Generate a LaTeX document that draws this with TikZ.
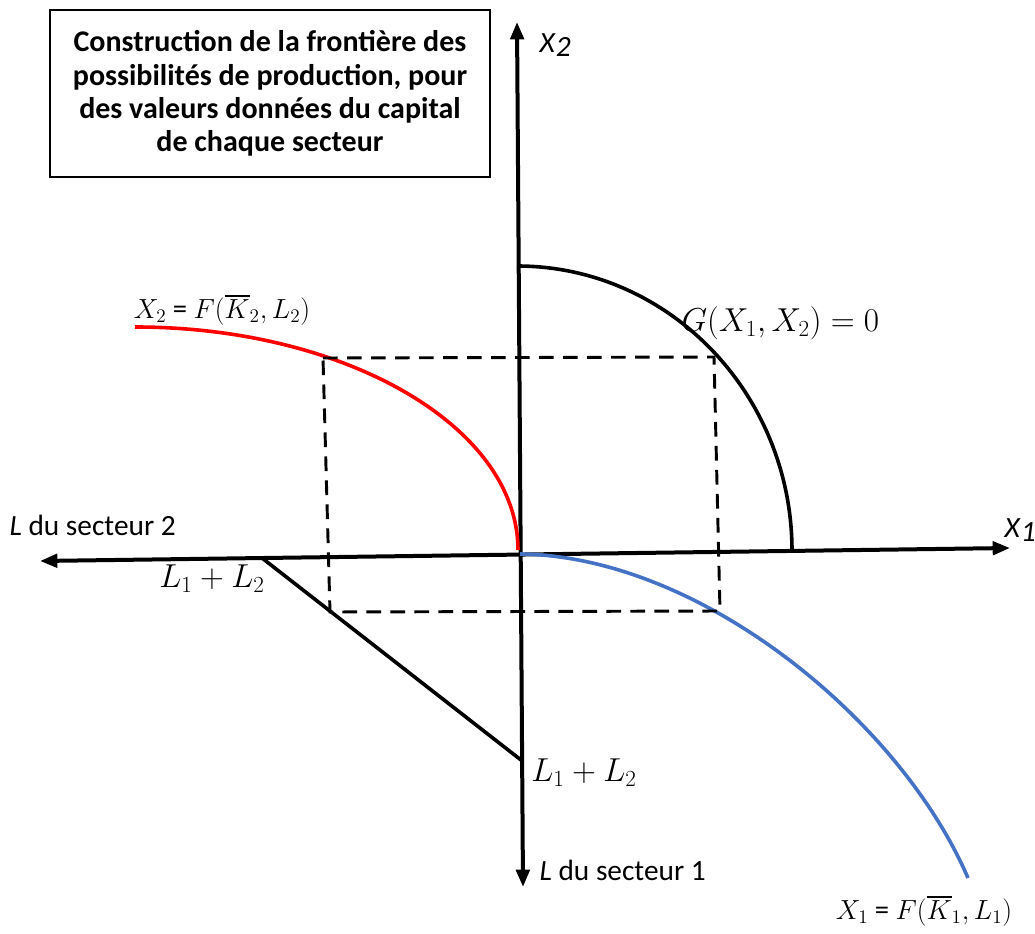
\documentclass[tikz,border=0pt]{standalone}
\usepackage{fontspec}
\setmainfont{Carlito}
\usepackage{amsmath}
\usepackage{xcolor}
\usetikzlibrary{positioning,arrows.meta,calc}
\definecolor{frRed}{RGB}{255,0,0}
\definecolor{frBlue}{RGB}{68,114,196}
\tikzset{
  axis/.style={line width=3pt,{Triangle[length=13pt,width=10pt]}-{Triangle[length=13pt,width=10pt]}},
  front/.style={line width=2.7pt},
  guide/.style={line width=2.2pt,dash pattern=on 11pt off 7pt},
  budget/.style={line width=2.7pt},
  titlebox/.style={draw=black,line width=1.4pt,align=center,inner sep=0pt,
              minimum width=330pt,minimum height=125pt,
              font=\fontsize{22.5}{25}\selectfont\bfseries},
  lbl/.style={inner sep=1pt,font=\fontsize{22}{26}\selectfont},
  mlbl/.style={inner sep=1pt,font=\fontsize{24}{28}\selectfont},
  flbl/.style={inner sep=1pt,font=\fontsize{21.5}{26}\selectfont},
}

\begin{document}
\begin{tikzpicture}[x=0.75pt,y=-0.75pt]
  \useasboundingbox (0,0) rectangle (1035,934);

  % ===== title =====
  \node[titlebox] (title) at (270,93.5)
       {Construction de la frontière des\\possibilités de production, pour\\des valeurs données du capital\\de chaque secteur};

  % ===== axes =====
  \coordinate (yTop) at (517,22);
  \coordinate (yBot) at (523,887);
  \coordinate (xLft) at (40,561);
  \coordinate (xRgt) at (1010,548);
  \coordinate (O)    at (520,554);
  \draw[axis] (yBot) -- (yTop);
  \draw[axis] (xLft) -- (xRgt);
  \node[lbl,anchor=west] (x2lab) at (538,45) {\textit{X}\raisebox{-0.25ex}{\textit{2}}};
  \node[lbl,anchor=west] (x1lab) at (1003,530) {\textit{X}\raisebox{-0.25ex}{\textit{1}}};
  \node[lbl,anchor=west] (l2lab) at (8,525) {\textit{L} du secteur 2};
  \node[lbl,anchor=west] (l1lab) at (538,870) {\textit{L} du secteur 1};

  % ===== frontier and production functions =====
  \coordinate (gTop) at (517,266);
  \coordinate (gRgt) at (792,551);
  \draw[front] (gTop) .. controls (669,266) and (792,394) .. (gRgt);
  \node[mlbl,anchor=west] (glab) at (680,323) {$G(X_1,X_2)=0$};

  \coordinate (rStart) at (135,327);
  \draw[front,frRed] (rStart) .. controls (346,327) and (518,427) .. (518,550);
  \node[flbl] (f2lab) at (222,310) {$X_2$ = $F(\overline{K}_2,L_2)$};

  \coordinate (bEnd) at (968,878);
  \draw[front,frBlue] (O) .. controls (700,556) and (900,720) .. (bEnd);
  \node[flbl] (f1lab) at (924,911) {$X_1$ = $F(\overline{K}_1,L_1)$};

  % ===== labour constraint =====
  \coordinate (lA) at (262,558);
  \coordinate (lB) at (521,760);
  \draw[budget] (lA) -- (lB);
  \node[mlbl] (sumL) at (212,579) {$L_1+L_2$};
  \node[mlbl] (sumV) at (584,773) {$L_1+L_2$};

  % ===== dashed construction lines =====
  \coordinate (dTL) at (323,358);
  \coordinate (dTR) at (714,357);
  \coordinate (dBR) at (720,611);
  \coordinate (dBL) at (330,612);
  \draw[guide] (dTL) -- (dTR) -- (dBR) -- (dBL) -- cycle;
\end{tikzpicture}
\end{document}
